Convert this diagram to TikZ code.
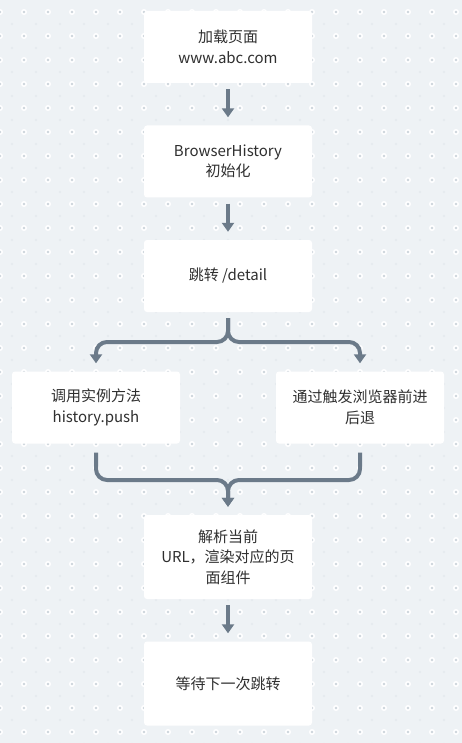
\documentclass[tikz,border=0pt]{standalone}
\usepackage{fontspec}
\setmainfont{Noto Sans CJK SC}
\usetikzlibrary{arrows.meta}
\definecolor{paper}{HTML}{EEF2F5}
\definecolor{griddot}{HTML}{CDD4DB}
\definecolor{gridfaint}{HTML}{E4E9EE}
\definecolor{flowline}{HTML}{6B7A89}
\definecolor{ink}{HTML}{2F2F2F}
\tikzset{
	card/.style={fill=white, rounded corners=3pt, minimum width=168pt, minimum height=72pt, inner sep=0pt, align=center, text=ink, font=\fontsize{15}{20.5}\selectfont},
	tallcard/.style={card, minimum height=84pt},
	flow/.style={draw=flowline, line width=4pt, rounded corners=11pt, -{Triangle[width=12pt,length=9pt]}, shorten <=6pt, shorten >=8pt},
}

\begin{document}
\begin{tikzpicture}[x=1pt,y=-1pt]
			%%%%% START %%%%%
			
			\fill[paper] (0,0) rectangle (462,743);
			\useasboundingbox (0,0) rectangle (462,743);
			
			% dotted grid
			\foreach \i in {0,...,19}
				\foreach \j in {0,...,30} {
					\fill[gridfaint] (12+24*\i, 24+24*\j) circle (1.2pt);
					\fill[white] (24*\i, 12+24*\j) circle (3pt);
					\fill[griddot] (24*\i, 12+24*\j) circle (1.3pt);
				}
			
			\node[card] (load) at (228, 47) {加载页面\\www.abc.com};
			\node[card] (init) at (228, 161.5) {BrowserHistory\\初始化};
			\node[card] (jump) at (228, 276) {跳转 /detail};
			
			\node[card] (push) at (96, 407.5) {调用实例方法\\history.push};
			\node[card] (back) at (360, 407.5) {通过触发浏览器前进\\后退};
			
			\node[tallcard] (parse) at (228, 557) {解析当前\\URL，渲染对应的页\\面组件};
			\node[tallcard] (wait) at (228, 683.5) {等待下一次跳转};
			
			\draw[flow] (load) -- (init);
			\draw[flow] (init) -- (jump);
			
			\coordinate (split) at (228, 342);
			\draw[flow] (jump.south) -- (split) -| (push.north);
			\draw[flow] (jump.south) -- (split) -| (back.north);
			
			\coordinate (merge) at (228, 480);
			\draw[flow, shorten <=9pt] (push.south) |- (merge) -- (parse.north);
			\draw[flow, shorten <=9pt] (back.south) |- (merge) -- (parse.north);
			
			\draw[flow] (parse) -- (wait);
			
			%%%%% END %%%%%
\end{tikzpicture}
\end{document}
